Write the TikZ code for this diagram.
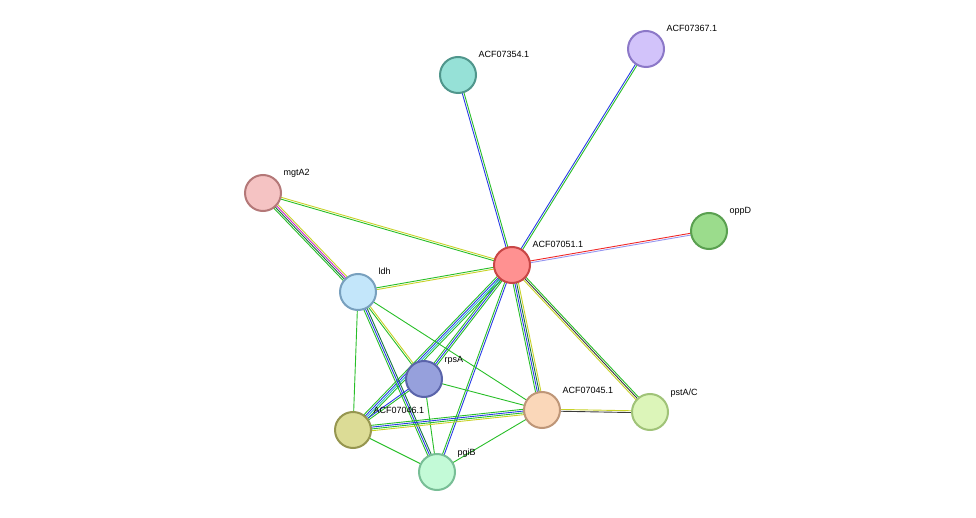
\documentclass[tikz,border=0pt]{standalone}
\usepackage{fontspec}
\setmainfont{Liberation Sans}
\usetikzlibrary{calc}
\definecolor{eg}{RGB}{40,190,40}
\definecolor{eb}{RGB}{40,60,230}
\definecolor{ey}{RGB}{200,210,40}
\definecolor{er}{RGB}{240,40,40}
\definecolor{el}{RGB}{150,150,240}
\definecolor{em}{RGB}{200,40,200}
\definecolor{ec}{RGB}{40,180,200}
\definecolor{ek}{RGB}{60,60,60}
\definecolor{edg}{RGB}{20,120,60}
\newcommand{\myedge}[3]{%
  \foreach \c [count=\i] in {#3} {\xdef\myn{\i}}%
  \foreach \c [count=\i] in {#3} {%
    \pgfmathsetmacro{\o}{(\i-(\myn+1)/2)*1.8}%
    \draw[\c, line width=0.9pt] ($(#1)!{\o pt}!90:(#2)$) -- ($(#2)!{\o pt}!-90:(#1)$);}}
\tikzset{prot/.style={circle, minimum size=36pt, inner sep=0pt, line width=2pt},
  lab/.style={anchor=base west, font=\fontsize{9}{10}\selectfont}}
\begin{document}
\begin{tikzpicture}[x=1pt,y=-1pt]
\useasboundingbox (0,0) rectangle (976,518);
\coordinate (a) at (512,265);
\coordinate (b) at (458,75);
\coordinate (c) at (646,49);
\coordinate (d) at (263,193);
\coordinate (e) at (709,231);
\coordinate (f) at (358,292);
\coordinate (g) at (424,379);
\coordinate (h) at (542,410);
\coordinate (i) at (650,412);
\coordinate (j) at (353,430);
\coordinate (k) at (437,472);
\myedge{a}{b}{eg,eb}
\myedge{a}{c}{eg,eb}
\myedge{a}{d}{ey,eg}
\myedge{a}{e}{el,er}
\myedge{a}{f}{eg,ey}
\myedge{a}{g}{eg,eb,eg}
\myedge{a}{j}{eg,eb,ec,eg}
\myedge{a}{k}{eg,eb}
\myedge{a}{h}{eg,eb,edg,ey}
\myedge{a}{i}{ey,ek,eg}
\myedge{d}{f}{eg,edg,em,ey}
\myedge{f}{k}{eg,eb,edg}
\myedge{f}{j}{eg}
\myedge{f}{h}{eg}
\myedge{f}{g}{eg,ey}
\myedge{g}{j}{eb,eg}
\myedge{g}{h}{eg}
\myedge{g}{k}{eg}
\myedge{j}{h}{ey,eg,eb,eg}
\myedge{j}{k}{eg}
\myedge{h}{k}{eg}
\myedge{h}{i}{ek,ey}
\node[prot, fill={rgb,255:red,255;green,145;blue,145}, draw={rgb,255:red,200;green,70;blue,70}] (n1) at (a) {};
\node[prot, fill={rgb,255:red,150;green,225;blue,215}, draw={rgb,255:red,80;green,150;blue,140}] (n2) at (b) {};
\node[prot, fill={rgb,255:red,210;green,195;blue,250}, draw={rgb,255:red,140;green,120;blue,200}] (n3) at (c) {};
\node[prot, fill={rgb,255:red,245;green,195;blue,195}, draw={rgb,255:red,180;green,120;blue,120}] (n4) at (d) {};
\node[prot, fill={rgb,255:red,155;green,220;blue,140}, draw={rgb,255:red,90;green,160;blue,80}] (n5) at (e) {};
\node[prot, fill={rgb,255:red,195;green,230;blue,250}, draw={rgb,255:red,120;green,160;blue,190}] (n6) at (f) {};
\node[prot, fill={rgb,255:red,150;green,160;blue,220}, draw={rgb,255:red,90;green,100;blue,170}] (n7) at (g) {};
\node[prot, fill={rgb,255:red,250;green,215;blue,185}, draw={rgb,255:red,190;green,150;blue,120}] (n8) at (h) {};
\node[prot, fill={rgb,255:red,220;green,245;blue,185}, draw={rgb,255:red,160;green,195;blue,120}] (n9) at (i) {};
\node[prot, fill={rgb,255:red,220;green,220;blue,150}, draw={rgb,255:red,150;green,150;blue,80}] (n10) at (j) {};
\node[prot, fill={rgb,255:red,195;green,250;blue,215}, draw={rgb,255:red,120;green,190;blue,150}] (n11) at (k) {};
\node[lab] (l1) at (529,248) {ACF07051.1};
\node[lab] (l2) at (475,58) {ACF07354.1};
\node[lab] (l3) at (663,32) {ACF07367.1};
\node[lab] (l4) at (280,176) {mgtA2};
\node[lab] (l5) at (726,214) {oppD};
\node[lab] (l6) at (375,275) {ldh};
\node[lab] (l7) at (441,362) {rpsA};
\node[lab] (l8) at (559,393) {ACF07045.1};
\node[lab] (l9) at (667,395) {pstA/C};
\node[lab] (l10) at (370,413) {ACF07046.1};
\node[lab] (l11) at (454,455) {pgiB};
\end{tikzpicture}
\end{document}
